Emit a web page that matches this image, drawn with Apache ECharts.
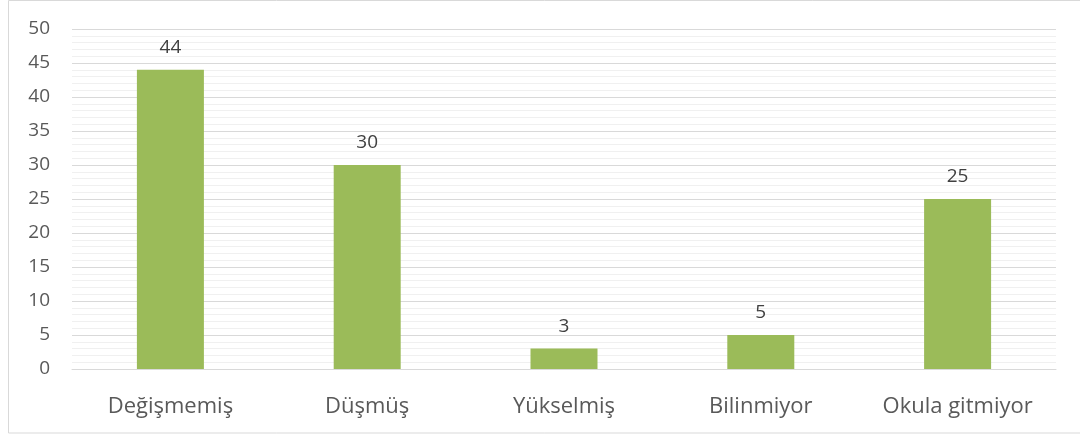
<!DOCTYPE html>
<html>
<head>
<meta charset="utf-8">
<script src="https://cdn.jsdelivr.net/npm/echarts@6/dist/echarts.min.js"></script>
<style>html,body{margin:0;padding:0;background:#fff;}#c{width:1080px;height:436px;}</style>
</head>
<body>
<div id="c"></div>
<script>
const categories = ['Değişmemiş', 'Düşmüş', 'Yükselmiş', 'Bilinmiyor', 'Okula gitmiyor'];
const values = [44, 30, 3, 5, 25];
const yTicks = [0, 5, 10, 15, 20, 25, 30, 35, 40, 45, 50];

const chart = echarts.init(document.getElementById('c'), null, {renderer: 'canvas'});
const font = '"Open Sans", "Noto Sans", sans-serif';
chart.setOption({
  animation: false,
  graphic: [{
    type: 'rect',
    shape: {x: 8.5, y: 0.5, width: 1100, height: 432.5},
    style: {fill: 'none', stroke: '#d9d9d9', lineWidth: 1},
    silent: true
  }],
  grid: {left: 72, right: 24, top: 29, bottom: 67, containLabel: false},
  xAxis: {
    type: 'category',
    data: categories,
    axisLine: {show: true, lineStyle: {color: '#d9d9d9', width: 1}},
    axisTick: {show: false},
    axisLabel: {color: '#595959', fontSize: 22, fontFamily: font, margin: 27}
  },
  yAxis: {
    type: 'value',
    min: yTicks[0],
    max: yTicks[yTicks.length - 1],
    interval: 5,
    axisLine: {show: false},
    axisTick: {show: false},
    axisLabel: {color: '#595959', fontSize: 19, fontFamily: font, margin: 22},
    splitLine: {show: true, lineStyle: {color: '#d9d9d9', width: 1}},
    minorTick: {show: false, splitNumber: 5},
    minorSplitLine: {show: true, lineStyle: {color: '#f0f0f0', width: 1}}
  },
  series: [{
    type: 'bar',
    data: values,
    barWidth: 67,
    itemStyle: {color: '#9bbb59'},
    label: {show: true, position: 'top', distance: 13, color: '#404040', fontSize: 19, fontFamily: font}
  }]
});
</script>
</body>
</html>
